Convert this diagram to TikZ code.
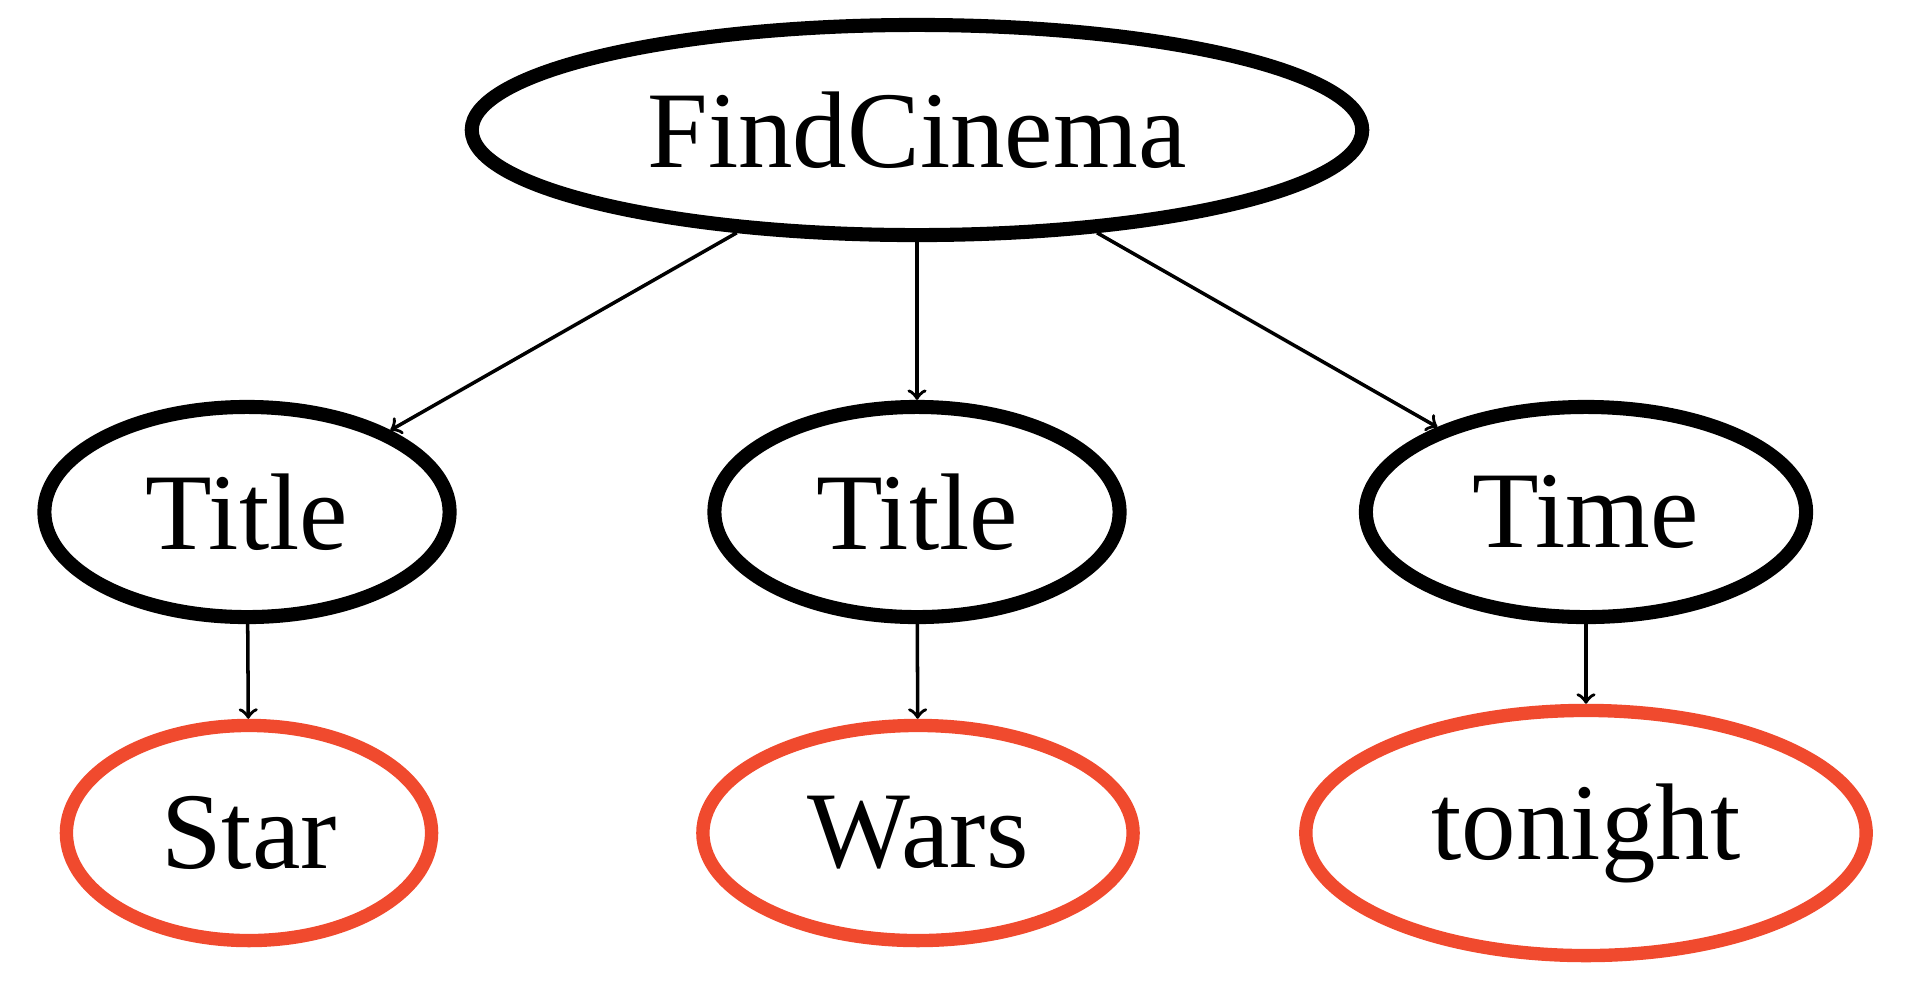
\documentclass[tikz,border=0pt]{standalone}
\usepackage{fontspec}
\setmainfont{Liberation Serif}
\usetikzlibrary{shapes.geometric}
\definecolor{slotred}{HTML}{F04A2E}
\begin{document}
\begin{tikzpicture}[x=0.01cm,y=-0.01cm,
  intent/.style={ellipse, draw, line width=4pt, inner sep=0pt, font=\fontsize{31}{37}\selectfont},
  slot/.style={intent, draw=slotred, line width=3.8pt}]
    \useasboundingbox (0,0) rectangle (1920,990);
    \node[intent, minimum width=8.9cm, minimum height=2.1cm] (fc) at (917,130) {FindCinema};
    \node[intent, minimum width=4.05cm, minimum height=2.1cm] (t1) at (247,512) {Title};
    \node[intent, minimum width=4.05cm, minimum height=2.1cm] (t2) at (917,512) {Title};
    \node[intent, minimum width=4.4cm, minimum height=2.1cm] (tm) at (1586,512) {Time};
    \node[slot, minimum width=3.65cm, minimum height=2.15cm] (s) at (249,833) {Star};
    \node[slot, minimum width=4.3cm, minimum height=2.15cm] (w) at (918,833) {Wars};
    \node[slot, minimum width=5.6cm, minimum height=2.45cm] (tn) at (1586,833) {tonight};
    \draw[->, line width=1pt] (fc) -- (t1);
    \draw[->, line width=1pt] (fc) -- (t2);
    \draw[->, line width=1pt] (fc) -- (tm);
    \draw[->, line width=1pt] (t1) -- (s);
    \draw[->, line width=1pt] (t2) -- (w);
    \draw[->, line width=1pt] (tm) -- (tn);
\end{tikzpicture}
\end{document}
